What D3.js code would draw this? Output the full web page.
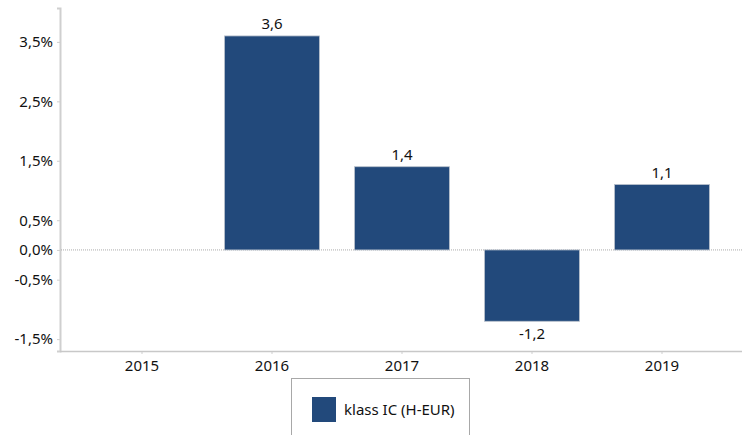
<!DOCTYPE html>
<html>
<head>
<meta charset="utf-8">
<script src="https://cdn.jsdelivr.net/npm/d3@7"></script>
<style>
  body { margin: 0; background: #fff; }
  text { font-family: 'Noto Sans', sans-serif; fill: #111; }
</style>
</head>
<body>
<div id="chart"></div>
<script>
// data
const years = ['2015', '2016', '2017', '2018', '2019'];
const values = [null, 3.6, 1.4, -1.2, 1.1];
const yTicks = [3.5, 2.5, 1.5, 0.5, 0.0, -0.5, -1.5];
const seriesName = 'klass IC (H-EUR)';

const width = 742, height = 435;
const barColor = '#22497b';

const svg = d3.select('#chart').append('svg')
    .attr('width', width)
    .attr('height', height);

// scales
const x = d3.scaleBand()
    .domain(years)
    .range([77, 727])
    .paddingInner(0.27)
    .paddingOuter(0.135);

const y = d3.scaleLinear()
    .domain([-1.7, 4.07])
    .range([351, 8]);

// comma decimals, plain hyphen for minus
const fmt = d => d3.format('.1f')(d).replace('.', ',').replace('\u2212', '-');

// y axis
const yAxis = d3.axisLeft(y)
    .tickValues(yTicks)
    .tickSize(3)
    .tickPadding(4)
    .tickFormat(d => fmt(d) + '%');

const yG = svg.append('g')
    .attr('transform', 'translate(60,0)')
    .call(yAxis);
yG.select('.domain').attr('stroke', '#cfcfcf').attr('stroke-width', 2);
yG.selectAll('.tick line').attr('stroke', '#cfcfcf');
yG.selectAll('.tick text').style('font-size', '15px').attr('fill', '#111');

// zero line
svg.append('line')
    .attr('x1', 61).attr('x2', width)
    .attr('y1', y(0)).attr('y2', y(0))
    .attr('stroke', '#aaa')
    .attr('stroke-dasharray', '1,1');

// x axis
const xAxis = d3.axisBottom(x)
    .tickSize(3)
    .tickPadding(6);

const xG = svg.append('g')
    .attr('transform', 'translate(0,351)')
    .call(xAxis);
xG.select('.domain').remove();
xG.selectAll('.tick line').attr('stroke', '#cfcfcf');
xG.selectAll('.tick text').style('font-size', '15px').attr('fill', '#111');
svg.append('line')
    .attr('x1', 60).attr('x2', width)
    .attr('y1', 351.5).attr('y2', 351.5)
    .attr('stroke', '#c8c8c8')
    .attr('stroke-width', 1.5);

// bars
const data = years.map((yr, i) => ({ year: yr, value: values[i] }))
    .filter(d => d.value != null);

svg.append('g').selectAll('rect')
    .data(data)
    .join('rect')
    .attr('x', d => x(d.year))
    .attr('width', x.bandwidth())
    .attr('y', d => y(Math.max(0, d.value)))
    .attr('height', d => Math.abs(y(d.value) - y(0)))
    .attr('fill', barColor)
    .attr('stroke', '#b8c0cc')
    .attr('stroke-width', 0.8);

// value labels
svg.append('g').selectAll('text')
    .data(data)
    .join('text')
    .attr('x', d => x(d.year) + x.bandwidth() / 2)
    .attr('y', d => d.value >= 0 ? y(d.value) - 7 : y(d.value) + 18)
    .attr('text-anchor', 'middle')
    .style('font-size', '15px')
    .text(d => fmt(d.value));

// legend
const legend = svg.append('g');
legend.append('rect')
    .attr('x', 291.5).attr('y', 378.5)
    .attr('width', 178).attr('height', 70)
    .attr('fill', '#fff')
    .attr('stroke', '#a8a8a8');
legend.append('rect')
    .attr('x', 312).attr('y', 397)
    .attr('width', 24).attr('height', 25)
    .attr('fill', barColor);
legend.append('text')
    .attr('x', 344).attr('y', 415)
    .style('font-size', '15px')
    .text(seriesName);
</script>
</body>
</html>
